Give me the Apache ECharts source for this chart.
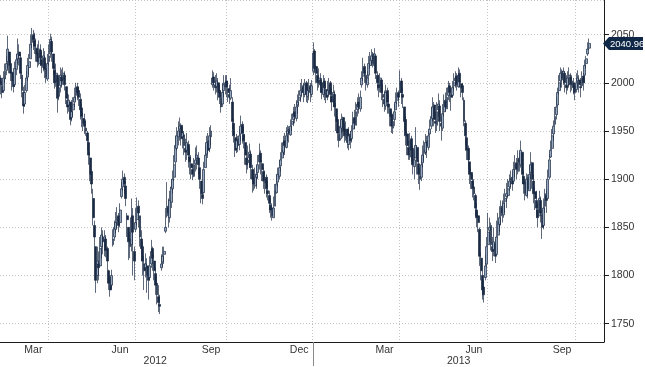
<!DOCTYPE html>
<html><head><meta charset="utf-8">
<script src="https://cdn.jsdelivr.net/npm/echarts@6/dist/echarts.min.js"></script>
<style>html,body{margin:0;padding:0;background:#fff;}#c{width:645px;height:367px;}</style>
</head><body><div id="c"></div>
<script>
// ---- calendar (KOSPI trading days) ----
const firstDay = [2012, 1, 13];           // 2012-02-13
const slotCount = 425;                     // trading-day slots on the axis
const holidays = ['2012-03-01','2012-04-11','2012-05-01','2012-05-28','2012-06-06','2012-08-15',
  '2012-10-01','2012-10-03','2012-12-19','2012-12-25','2012-12-31','2013-01-01','2013-02-11',
  '2013-03-01','2013-05-01','2013-05-17','2013-06-06','2013-08-15','2013-09-18','2013-09-19',
  '2013-09-20','2013-10-03','2013-10-09'];
const monthNames = ['Jan','Feb','Mar','Apr','May','Jun','Jul','Aug','Sep','Oct','Nov','Dec'];
const labelMonths = ['03','06','09','12'];
const gridMonths = ['01','04','07','10'];

// ---- daily OHLC values ----
const opens = [
2005,1996,1992,2004,2013,2022,2032,2020,2011,2003,1998,2014,2025,
2032,2026,2008,1990,1978,1992,2006,2016,2025,2042,2050,2044,2036,2031,2020,2034,2024,2016,2026,2015,2004,
2022,2030,2043,2030,2013,2002,2008,1986,1997,2006,2004,2008,1996,1982,1977,1980,1964,1972,1980,1987,
1996,1992,1983,1974,1963,1960,1953,1948,1938,1922,1908,1880,1852,1830,1800,1812,1810,1830,1840,1836,1838,
1828,1805,1798,1790,1832,1840,1848,1857,1862,1855,1882,1892,1902,1893,1862,1850,1838,1832,1862,1825,
1848,1858,1872,1862,1838,1830,1812,1808,1810,1802,1798,1812,1828,1815,1802,1792,1778,1770,1808,1814,1822,1846,
1862,1872,1860,1876,1890,1902,1918,1932,1944,1952,1956,1944,1946,1932,1930,1936,1923,1916,1910,1903,1916,1922,
1922,1912,1898,1884,1886,1912,1926,1940,1932,1944,1998,2006,1998,1996,2000,1992,1984,1978,1992,1996,
2002,1994,1988,1984,1980,1958,1943,1932,1942,1936,1947,1957,1946,1938,1922,1917,1922,1926,1910,1902,1893,
1902,1907,1918,1927,1916,1908,1896,1902,1888,1883,1873,1870,1860,1872,1886,1897,1903,1914,1922,1928,1940,1933,
1947,1952,1946,1957,1962,1970,1963,1977,1982,1987,1990,1997,1988,2000,1986,1994,1997,1988,
2012,2033,2017,2008,2002,2003,2000,1988,2002,1993,1987,1990,2000,1986,1982,1988,1973,1962,1946,1942,1953,1964,
1952,1943,1952,1936,1947,1942,1952,1964,1956,1972,1980,1973,1998,2007,2017,2008,1998,2008,2018,
2023,2030,2018,2028,2008,1998,1997,2003,1988,1983,1976,1992,1978,1973,1967,1953,1962,1972,1982,1990,
1990,2002,1988,1975,1962,1947,1933,1923,1942,1932,1913,1922,1933,1916,1903,1902,1917,1927,1928,1940,1933,1947,
1955,1963,1977,1960,1956,1972,1976,1958,1953,1970,1982,1973,1987,1997,1988,1987,1997,2002,2007,1996,2010,
1999,1997,1982,1958,1943,1932,1918,1907,1898,1892,1883,1868,1862,1848,1818,1800,1788,1798,1812,
1832,1847,1852,1830,1827,1833,1822,1842,1853,1862,1872,1863,1877,1882,1883,1892,1900,1902,1898,1912,1917,1908,1922,
1915,1928,1903,1897,1883,1902,1888,1907,1917,1898,1887,1878,1868,1862,1878,1863,1852,1872,1883,1880,1902,
1923,1932,1947,1957,1967,1977,1992,2002,2012,2003,2010,1998,1997,2007,2006,2000,2000,1997,
1993,2002,2003,1996,1997,2007,2008,2020,2030,2036];
const closes = [
1998,1990,2005,2012,2020,2035,2018,2010,2002,1996,2015,2024,2030,
2028,2010,1992,1976,1990,2005,2018,2022,2040,2048,2045,2038,2030,2022,2035,2026,2018,2028,2014,2006,2020,
2028,2045,2032,2015,2000,2010,1984,1995,2008,2002,2010,1998,1984,1975,1982,1962,1970,1978,1985,1995,
1990,1985,1972,1965,1958,1955,1950,1940,1925,1905,1895,1860,1840,1795,1815,1808,1828,1842,1835,1840,1826,
1815,1792,1785,1800,1838,1850,1855,1860,1852,1868,1890,1900,1895,1880,1858,1835,1830,1860,1845,1815,
1855,1870,1865,1840,1828,1815,1805,1812,1800,1795,1810,1825,1818,1805,1790,1780,1772,1768,1812,1820,1825,1850,
1870,1865,1878,1892,1900,1915,1935,1945,1950,1955,1942,1948,1935,1928,1938,1925,1918,1912,1905,1915,1920,1925,
1915,1900,1885,1880,1910,1925,1938,1930,1945,1950,2005,2000,1995,2002,1990,1985,1975,1990,1998,2000,
1996,1990,1985,1992,1960,1945,1930,1940,1935,1945,1955,1948,1940,1925,1915,1920,1928,1912,1900,1895,1905,
1905,1915,1925,1918,1910,1898,1900,1890,1885,1875,1868,1862,1870,1888,1895,1905,1912,1920,1930,1938,1935,1945,
1950,1948,1955,1960,1968,1965,1975,1980,1985,1992,1995,1990,1998,1988,1992,1995,1990,1997,
2031,2015,2010,2000,2005,1998,1990,2000,1995,1985,1992,1998,1988,1980,1990,1975,1960,1948,1940,1955,1962,1950,
1945,1950,1938,1945,1940,1950,1962,1958,1970,1978,1975,1985,2005,2015,2010,2000,2005,2020,2025,
2028,2020,2030,2010,2000,1995,2005,1990,1985,1978,1990,1980,1975,1965,1955,1960,1970,1980,1988,1985,
2000,1990,1985,1960,1945,1935,1925,1940,1930,1915,1920,1935,1918,1905,1900,1915,1925,1930,1938,1935,1945,1952,
1965,1975,1962,1958,1970,1978,1960,1955,1968,1980,1975,1985,1995,1990,1985,1995,2000,2005,1998,2008,2001,
1995,1990,1960,1945,1930,1920,1905,1900,1890,1885,1870,1860,1855,1820,1805,1785,1780,1810,1830,
1845,1850,1832,1825,1835,1820,1840,1855,1860,1870,1865,1875,1880,1885,1890,1898,1900,1895,1910,1915,1910,1920,1918,
1930,1905,1895,1885,1900,1890,1905,1915,1900,1885,1880,1870,1860,1880,1865,1850,1870,1885,1878,1900,1920,
1930,1945,1955,1965,1975,1990,2000,2010,2005,2012,2000,1995,2005,2008,1998,2002,1995,1990,
2000,2005,1998,1995,2005,2000,2018,2025,2035,2040.96];
const lows = [
1988,1984,1992,2000,2008,2015,2010,2002,1992,1990,1996,2008,2020,
2018,2004,1985,1968,1975,1990,2002,2008,2030,2036,2034,2030,2022,2016,2018,2018,2010,2012,2005,2000,2002,
2018,2026,2022,2008,1994,1996,1969,1982,1990,1995,1998,1992,1978,1968,1970,1956,1960,1965,1975,1982,
1982,1976,1962,1954,1950,1947,1945,1930,1915,1898,1885,1852,1830,1782,1792,1795,1812,1818,1822,1820,1819,
1805,1785,1778,1786,1830,1836,1844,1848,1845,1850,1880,1888,1885,1872,1840,1816,1818,1825,1800,1795,
1845,1852,1850,1830,1815,1800,1785,1798,1782,1775,1795,1808,1805,1795,1780,1770,1762,1760,1805,1809,1812,1844,
1860,1850,1855,1870,1885,1898,1915,1930,1935,1940,1935,1932,1925,1918,1920,1912,1905,1900,1899,1902,1908,1910,
1905,1890,1875,1874,1885,1915,1925,1922,1928,1935,1995,1992,1988,1990,1982,1978,1969,1975,1985,1988,
1985,1980,1978,1982,1952,1938,1923,1927,1928,1930,1940,1937,1932,1915,1906,1910,1912,1900,1886,1888,1890,
1890,1900,1910,1905,1898,1890,1885,1881,1878,1865,1860,1857,1862,1878,1885,1892,1900,1908,1920,1925,1925,1932,
1940,1938,1945,1950,1955,1958,1960,1968,1975,1980,1985,1980,1985,1980,1979,1982,1980,1985,
2008,2010,2000,1992,1995,1990,1983,1985,1982,1979,1982,1985,1980,1971,1975,1965,1950,1940,1933,1940,1948,1943,
1938,1940,1932,1930,1932,1938,1950,1952,1960,1965,1968,1970,1995,2002,2000,1992,1995,2005,2015,
2018,2016,2018,2004,1992,1985,1990,1982,1975,1970,1972,1968,1968,1955,1948,1947,1955,1974,1978,1975,
1990,1978,1974,1950,1935,1925,1920,1920,1918,1905,1900,1922,1905,1895,1889,1898,1912,1918,1925,1922,1930,1945,
1952,1960,1955,1948,1950,1965,1950,1940,1950,1965,1970,1975,1982,1980,1971,1985,1992,1995,1992,1995,1995,
1985,1982,1955,1935,1920,1910,1895,1890,1881,1878,1862,1850,1845,1810,1795,1775,1772,1795,1809,
1830,1835,1826,1815,1820,1813,1825,1840,1845,1852,1855,1860,1865,1870,1880,1888,1890,1888,1900,1902,1900,1905,1908,
1912,1895,1885,1878,1882,1880,1890,1900,1890,1875,1868,1860,1850,1862,1855,1838,1848,1865,1865,1880,1900,
1922,1930,1940,1955,1962,1975,1988,1995,1995,1998,1990,1988,1992,1995,1990,1992,1988,1982,
1990,1995,1990,1985,1995,1992,2000,2015,2028,2034];
const highs = [
2008,2002,2012,2020,2028,2049,2032,2024,2012,2010,2022,2030,2046,
2040,2030,2012,1996,1998,2012,2026,2030,2050,2057,2055,2052,2046,2040,2044,2040,2032,2036,2033,2022,2030,
2040,2051,2048,2030,2018,2020,2005,2005,2016,2014,2016,2012,1996,1989,1988,1980,1982,1985,1995,2000,
2000,1995,1989,1978,1969,1968,1962,1950,1940,1928,1909,1890,1857,1830,1830,1825,1840,1850,1847,1847,1842,
1830,1806,1800,1806,1848,1857,1866,1871,1865,1875,1897,1909,1906,1898,1865,1850,1845,1880,1870,1830,
1870,1881,1878,1860,1847,1835,1820,1823,1818,1810,1820,1837,1830,1822,1808,1800,1790,1780,1822,1830,1830,1870,
1897,1880,1888,1900,1909,1925,1945,1954,1960,1964,1958,1954,1950,1942,1948,1940,1932,1925,1915,1922,1933,1935,
1928,1915,1896,1892,1918,1935,1945,1948,1954,1956,2013,2011,2008,2010,2005,1998,1992,2000,2008,2008,
2008,2002,1998,2005,1985,1963,1950,1947,1945,1952,1966,1960,1955,1947,1930,1935,1937,1930,1915,1910,1912,
1915,1925,1937,1930,1920,1912,1909,1905,1898,1888,1880,1875,1882,1895,1905,1912,1920,1928,1938,1945,1948,1954,
1956,1955,1962,1968,1975,1978,1982,1988,1992,2000,2004,2000,2004,2002,2000,2004,2000,2003,
2042,2035,2018,2012,2015,2010,2005,2008,2005,2000,2002,2005,2002,1995,1998,1992,1979,1965,1955,1962,1968,1965,
1958,1960,1952,1954,1950,1956,1970,1972,1980,1985,1989,1992,2012,2026,2020,2013,2012,2028,2032,
2035,2032,2036,2028,2012,2008,2010,2002,1999,1992,1998,1995,1988,1975,1971,1968,1978,1990,1995,1992,
2013,2005,1995,1975,1966,1950,1940,1948,1945,1935,1930,1954,1935,1920,1912,1922,1935,1940,1947,1945,1950,1962,
1975,1985,1980,1970,1980,1989,1982,1965,1978,1988,1990,1995,2002,2000,1995,2002,2010,2012,2010,2016,2014,
2002,2000,1985,1961,1945,1935,1915,1912,1905,1900,1885,1875,1866,1850,1824,1805,1795,1822,1840,
1865,1860,1855,1840,1850,1838,1857,1865,1872,1878,1878,1885,1890,1896,1900,1905,1909,1908,1918,1925,1922,1930,1928,
1940,1925,1909,1900,1906,1905,1915,1928,1918,1905,1892,1888,1875,1888,1882,1868,1880,1890,1890,1910,1926,
1940,1952,1961,1975,1985,1995,2008,2016,2014,2016,2012,2008,2012,2016,2010,2008,2005,2000,
2010,2013,2008,2005,2012,2010,2024,2028,2042,2046];

// ---- build categories ----
const pad = n => (n < 10 ? '0' : '') + n;
const categories = [];
const d = new Date(Date.UTC(firstDay[0], firstDay[1], firstDay[2]));
while (categories.length < slotCount) {
  const wd = d.getUTCDay();
  const s = d.getUTCFullYear() + '-' + pad(d.getUTCMonth() + 1) + '-' + pad(d.getUTCDate());
  if (wd !== 0 && wd !== 6 && holidays.indexOf(s) < 0) categories.push(s);
  d.setUTCDate(d.getUTCDate() + 1);
}
const monthStart = new Set(), quarterStart = new Set(), monthLabelIdx = new Set(), yearLabelIdx = new Set();
let yearStartIdx = -1;
const monthRanges = {}, yearRanges = {};
categories.forEach((c, i) => {
  const ym = c.slice(0, 7), y = c.slice(0, 4);
  (monthRanges[ym] = monthRanges[ym] || [i, i])[1] = i;
  (yearRanges[y] = yearRanges[y] || [i, i])[1] = i;
  if (i > 0 && ym !== categories[i - 1].slice(0, 7)) {
    monthStart.add(i);
    if (gridMonths.indexOf(c.slice(5, 7)) >= 0) quarterStart.add(i);
    if (y !== categories[i - 1].slice(0, 4)) yearStartIdx = i;
  }
});
Object.keys(monthRanges).forEach(k => {
  const r = monthRanges[k];
  if (labelMonths.indexOf(k.slice(5, 7)) >= 0 && r[0] > 0) monthLabelIdx.add(Math.floor((r[0] + r[1]) / 2));
});
Object.keys(yearRanges).forEach(k => { const r = yearRanges[k]; yearLabelIdx.add(Math.floor((r[0] + r[1]) / 2)); });

const ohlc = opens.map((o, i) => [o, closes[i], Math.min(lows[i], o, closes[i]), Math.max(highs[i], o, closes[i])]);
const lastClose = closes[closes.length - 1];

const FONT = 'Liberation Sans';
const AXIS = '#1c1c1c';
const TAG = '#0f2848';
const chart = echarts.init(document.getElementById('c'), null, {renderer: 'canvas'});
chart.setOption({
  animation: false,
  backgroundColor: '#ffffff',
  grid: {left: 0, right: 41, top: -1, bottom: 25},
  xAxis: [{
    type: 'category', data: categories, boundaryGap: true, position: 'bottom',
    axisLine: {lineStyle: {color: AXIS, width: 1}},
    axisTick: {interval: i => monthStart.has(i), length: 4, lineStyle: {color: AXIS}},
    axisLabel: {interval: i => monthLabelIdx.has(i), formatter: v => monthNames[+v.slice(5, 7) - 1],
      margin: 3, fontSize: 10.5, color: '#333', fontFamily: FONT},
    splitLine: {show: true, interval: i => quarterStart.has(i), lineStyle: {type: [1, 2], color: '#c4c4c4'}}
  }, {
    type: 'category', data: categories, boundaryGap: false, position: 'bottom',
    axisLine: {show: false},
    axisTick: {show: true, interval: i => i === yearStartIdx, length: 24, lineStyle: {color: '#8a8a8a'}},
    axisLabel: {interval: i => yearLabelIdx.has(i), formatter: v => v.slice(0, 4),
      margin: 14, fontSize: 10.5, color: '#333', fontFamily: FONT},
    splitLine: {show: false}
  }],
  yAxis: {
    type: 'value', position: 'right', min: 1731, max: 2086, splitNumber: 7, minInterval: 50, maxInterval: 50,
    axisLine: {show: true, lineStyle: {color: AXIS, width: 1}},
    axisTick: {show: true, length: 5, lineStyle: {color: AXIS}},
    axisLabel: {showMinLabel: false, showMaxLabel: false, margin: 7, fontSize: 10.5, color: '#333', fontFamily: FONT,
      formatter: v => (v % 50 === 0 ? String(v) : '')},
    splitLine: {show: true, lineStyle: {type: [1, 2], color: '#c4c4c4'}}
  },
  series: [{
    type: 'candlestick', xAxisIndex: 0, yAxisIndex: 0, data: ohlc, barWidth: 2.4,
    itemStyle: {color: '#98a8bf', color0: '#1a2a44', borderColor: '#1a2a44', borderColor0: '#1a2a44', borderWidth: 0.7}
  }]
});

// last-price tag placed through the library's own scale
const rect = chart.getModel().getComponent('grid').coordinateSystem.getRect();
const ax = rect.x + rect.width;
const ay = chart.convertToPixel({yAxisIndex: 0}, lastClose);
const W = chart.getWidth();
chart.setOption({
  graphic: [{
    type: 'polygon', z: 100, silent: true,
    shape: {points: [[ax - 1, ay], [ax + 5, ay - 6.5], [W - 2, ay - 6.5], [W - 2, ay + 6.5], [ax + 5, ay + 6.5]]},
    style: {fill: TAG}
  }, {
    type: 'text', z: 101, silent: true, x: ax + 6, y: ay + 0.5,
    style: {text: lastClose.toFixed(2), fill: '#ffffff', font: '9.5px "Liberation Sans"', verticalAlign: 'middle', align: 'left'}
  }]
});
</script></body></html>
